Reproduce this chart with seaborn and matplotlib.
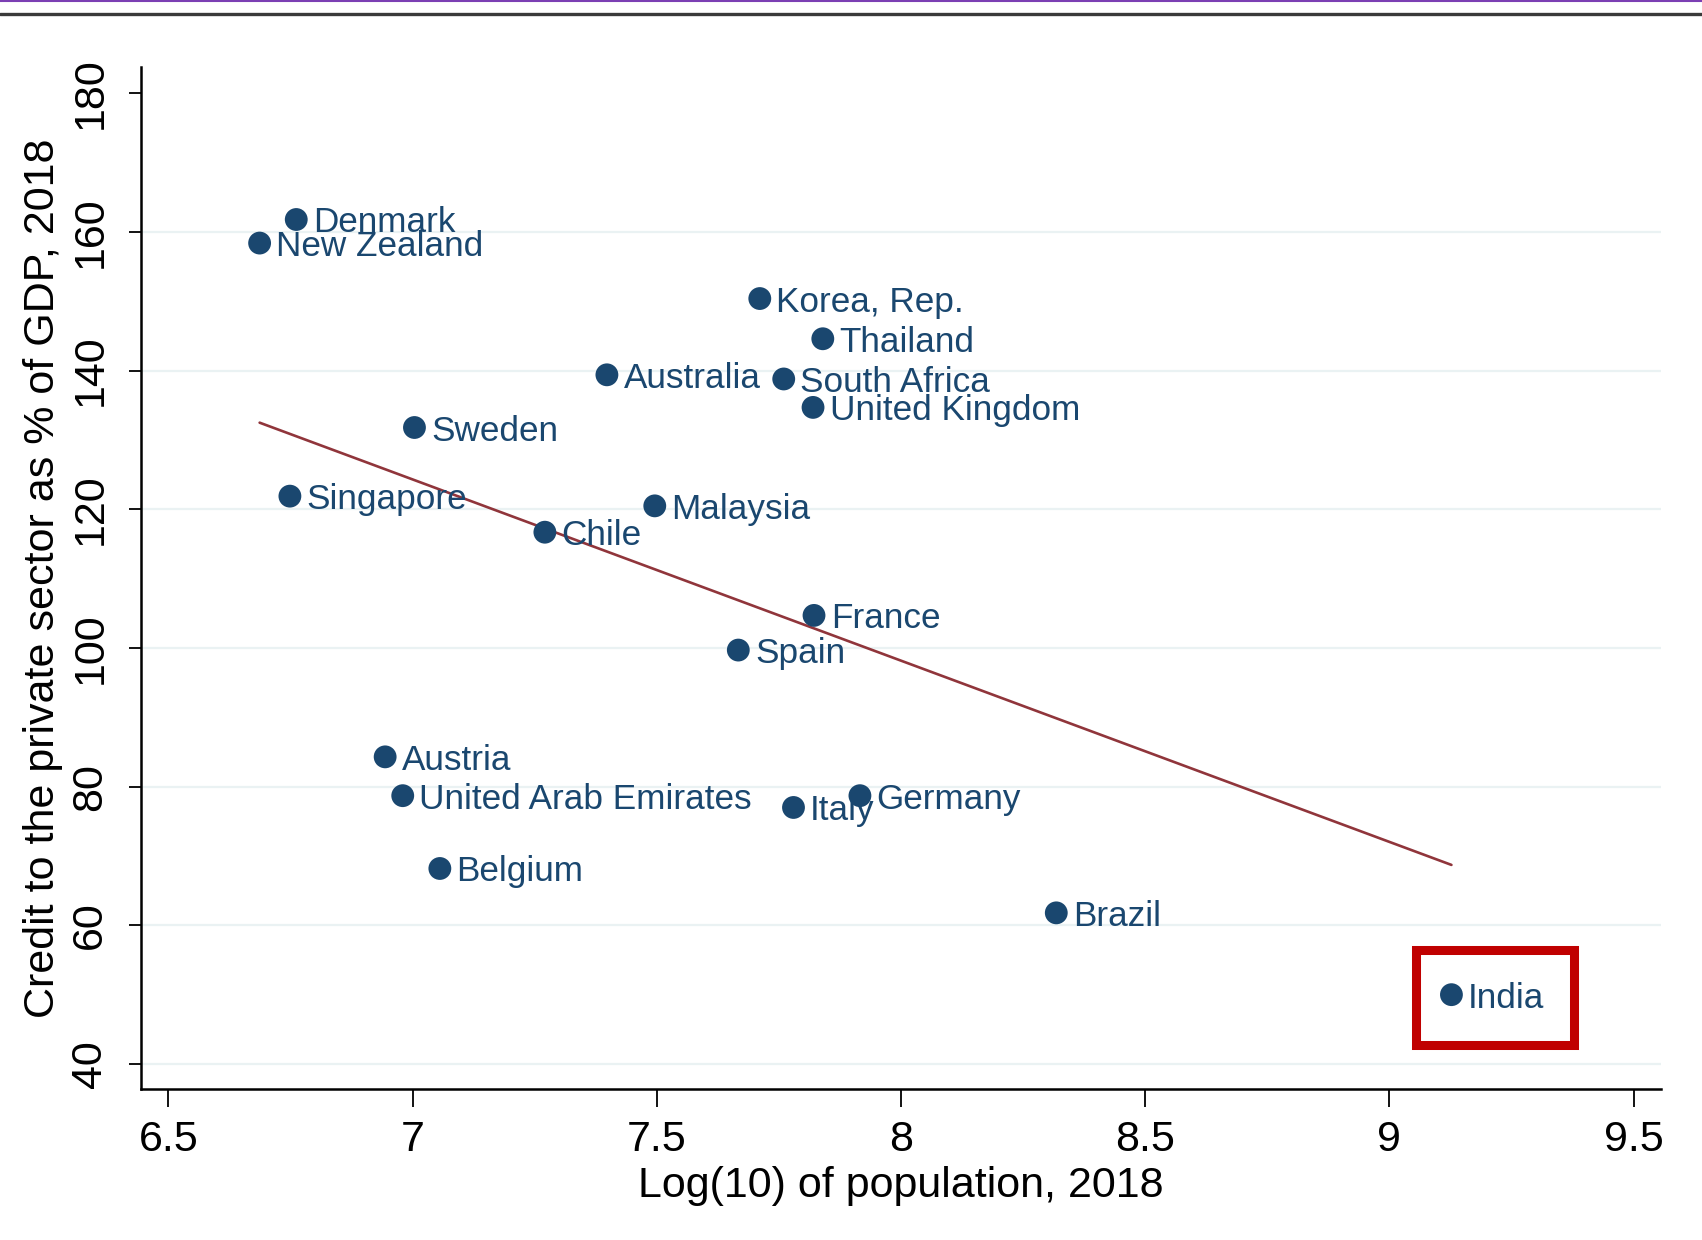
import matplotlib
matplotlib.use("Agg")
import matplotlib.pyplot as plt
from matplotlib.lines import Line2D
from matplotlib.patches import Rectangle
import seaborn as sns
import pandas as pd

# values
countries = ["Denmark", "New Zealand", "Korea, Rep.", "Thailand", "Australia",
             "South Africa", "United Kingdom", "Sweden", "Singapore", "Malaysia",
             "Chile", "France", "Spain", "Austria", "United Arab Emirates",
             "Italy", "Germany", "Belgium", "Brazil", "India"]
log_pop = [6.762, 6.687, 7.711, 7.840, 7.398,
           7.760, 7.820, 7.004, 6.749, 7.496,
           7.271, 7.822, 7.667, 6.944, 6.980,
           7.780, 7.916, 7.056, 8.318, 9.127]
credit = [161.8, 158.4, 150.4, 144.6, 139.4,
          138.8, 134.7, 131.8, 121.9, 120.5,
          116.7, 104.7, 99.7, 84.3, 78.7,
          77.0, 78.7, 68.2, 61.8, 50.0]
x_ticks = [6.5, 7, 7.5, 8, 8.5, 9, 9.5]
x_tick_labels = ["6.5", "7", "7.5", "8", "8.5", "9", "9.5"]
y_ticks = [40, 60, 80, 100, 120, 140, 160, 180]
highlight = "India"

df = pd.DataFrame({"country": countries, "log_pop": log_pop, "credit": credit})

NAVY = "#1a476f"
MAROON = "#90353b"

sns.set_theme(style="white")
plt.rcParams["font.family"] = ["Liberation Sans", "DejaVu Sans"]
plt.rcParams["text.color"] = "black"
plt.rcParams["axes.labelcolor"] = "black"
plt.rcParams["xtick.color"] = "black"
plt.rcParams["ytick.color"] = "black"

fig = plt.figure(figsize=(17.02, 12.40), dpi=100)
ax = fig.add_axes([0.0828, 0.1218, 0.8931, 0.8242])

# fitted line first so the dots sit on top
sns.regplot(data=df, x="log_pop", y="credit", scatter=False, ci=None,
            color=MAROON, line_kws={"linewidth": 1.9}, ax=ax)
sns.scatterplot(data=df, x="log_pop", y="credit", color=NAVY, s=270,
                edgecolor="none", ax=ax, zorder=3)

for name, xv, yv in zip(df["country"], df["log_pop"], df["credit"]):
    ax.annotate(name, (xv, yv), xytext=(12, 0), textcoords="offset points",
                ha="left", va="center_baseline", fontsize=25.3, color=NAVY,
                zorder=4)

# red box around India
row = df[df["country"] == highlight].iloc[0]
ax.add_patch(Rectangle((row["log_pop"] - 0.072, row["credit"] - 7.3), 0.322, 13.8,
                       fill=False, edgecolor="#c00000", linewidth=6.5, zorder=5))

ax.set_xlim(6.444, 9.556)
ax.set_ylim(36.4, 183.8)
ax.set_xticks(x_ticks)
ax.set_xticklabels(x_tick_labels)
ax.set_yticks(y_ticks)

ax.grid(axis="y", color="#eaf2f3", linewidth=1.6)
ax.yaxis.get_gridlines()[-1].set_visible(False)
ax.set_axisbelow(True)

for side in ["top", "right"]:
    ax.spines[side].set_visible(False)
for side in ["left", "bottom"]:
    ax.spines[side].set_color("black")
    ax.spines[side].set_linewidth(1.8)

ax.tick_params(axis="x", length=13, width=1.3, labelsize=31, pad=9, bottom=True)
ax.tick_params(axis="y", length=9, width=1.3, labelsize=31, pad=13, left=True)
for lbl in ax.get_yticklabels():
    lbl.set_rotation(90)
    lbl.set_va("center")

ax.set_xlabel("Log(10) of population, 2018", fontsize=31, labelpad=5)
ax.set_ylabel("Credit to the private sector as % of GDP, 2018", fontsize=31,
              labelpad=5)

# page decorations from the screenshot
fig.add_artist(Line2D([0, 1], [0.9992, 0.9992], transform=fig.transFigure,
                      color="#7b3fb3", linewidth=1.5))
fig.add_artist(Line2D([0, 1], [0.9885, 0.9885], transform=fig.transFigure,
                      color="#3a3a3a", linewidth=2.4))

fig.savefig("out.png", dpi=100)
